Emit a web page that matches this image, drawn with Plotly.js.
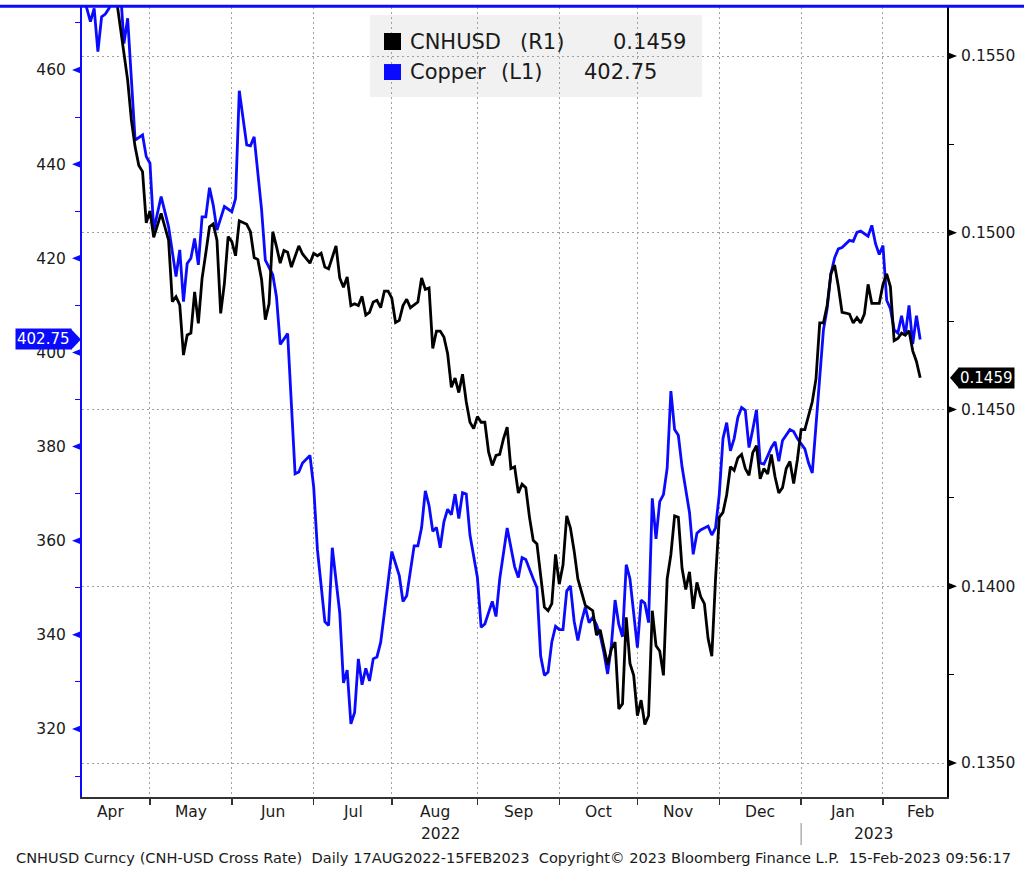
<!DOCTYPE html>
<html>
<head>
<meta charset="utf-8">
<script src="https://cdn.plot.ly/plotly-3.0.1.min.js"></script>
<style>
html,body{margin:0;padding:0;background:#fff;}
#chart{width:1024px;height:869px;}
</style>
</head>
<body>
<div id="chart"></div>
<script>
// ---------------- DATA ----------------
const copperDates = [
'2022-04-06','2022-04-08','2022-04-11','2022-04-12','2022-04-13','2022-04-14','2022-04-15','2022-04-19','2022-04-20','2022-04-21','2022-04-22','2022-04-26','2022-04-28','2022-04-29',
'2022-05-02','2022-05-03','2022-05-05','2022-05-09','2022-05-11','2022-05-12','2022-05-13','2022-05-16','2022-05-17','2022-05-18','2022-05-19','2022-05-20','2022-05-23','2022-05-24','2022-05-25','2022-05-26','2022-05-30',
'2022-06-01','2022-06-02','2022-06-03','2022-06-07','2022-06-08','2022-06-09','2022-06-13','2022-06-14','2022-06-16','2022-06-17','2022-06-20','2022-06-22','2022-06-24','2022-06-27','2022-06-28','2022-06-30',
'2022-07-01','2022-07-04','2022-07-06','2022-07-07','2022-07-08','2022-07-12','2022-07-13','2022-07-14','2022-07-15','2022-07-18','2022-07-19','2022-07-20','2022-07-21','2022-07-22','2022-07-25','2022-07-26','2022-07-27','2022-07-28',
'2022-08-01','2022-08-03','2022-08-04','2022-08-05','2022-08-09','2022-08-10','2022-08-11','2022-08-12','2022-08-15','2022-08-16','2022-08-17','2022-08-18','2022-08-19','2022-08-22','2022-08-23','2022-08-24','2022-08-25','2022-08-26','2022-08-29','2022-08-30',
'2022-09-01','2022-09-02','2022-09-05','2022-09-07','2022-09-08','2022-09-09','2022-09-13','2022-09-15','2022-09-16','2022-09-19','2022-09-20','2022-09-22','2022-09-23','2022-09-26','2022-09-27','2022-09-28','2022-09-29','2022-09-30',
'2022-10-03','2022-10-04','2022-10-05','2022-10-06','2022-10-07','2022-10-10','2022-10-11','2022-10-12','2022-10-13','2022-10-14','2022-10-17','2022-10-18','2022-10-19','2022-10-20','2022-10-21','2022-10-24','2022-10-25','2022-10-26','2022-10-27','2022-10-28','2022-10-31',
'2022-11-01','2022-11-02','2022-11-03','2022-11-04','2022-11-07','2022-11-08','2022-11-09','2022-11-10','2022-11-11','2022-11-14','2022-11-15','2022-11-16','2022-11-17','2022-11-21','2022-11-22','2022-11-23','2022-11-24','2022-11-28','2022-11-29','2022-11-30',
'2022-12-01','2022-12-02','2022-12-05','2022-12-06','2022-12-07','2022-12-08','2022-12-09','2022-12-12','2022-12-13','2022-12-14','2022-12-15','2022-12-16','2022-12-19','2022-12-20','2022-12-21','2022-12-22','2022-12-23','2022-12-26','2022-12-28','2022-12-29','2022-12-30',
'2023-01-03','2023-01-04','2023-01-05','2023-01-06','2023-01-09','2023-01-10','2023-01-11','2023-01-12','2023-01-13','2023-01-16','2023-01-17','2023-01-19','2023-01-20','2023-01-23','2023-01-24','2023-01-25','2023-01-26','2023-01-27','2023-01-30','2023-01-31',
'2023-02-01','2023-02-02','2023-02-03','2023-02-06','2023-02-07','2023-02-08','2023-02-09','2023-02-10','2023-02-13','2023-02-14','2023-02-15'
];
const copperValues = [
476,470.3,473.1,463.9,471.3,471.9,473.1,477,478,465.6,471,445.1,446.2,441.6,
440.2,426,433.1,426.7,416.1,421.8,410.8,418.9,420,424.2,418.6,428.8,428.8,435,431.3,426,431,
429.9,432.7,455.6,444.1,443.9,445.8,430.3,419.6,416.5,411.8,401.7,404,374.2,374.6,376.5,378.1,
371.4,358.1,342.8,342,358.5,344.7,329.8,332.5,321.1,323.5,334.9,329.4,332.9,330.2,334.9,335.3,338.4,344.7,
357.7,352.6,347.1,348.3,358.9,358.9,362.8,370.6,367.5,362,362.8,358.5,364,366.7,365.5,369.9,364.7,370.2,369.9,361.2,
352.2,341.6,342.3,347.1,343.9,351.9,362.7,354.5,352.2,356.4,356,351.9,350,335.5,331.4,332.1,338.5,341.8,
341.1,341.1,349.3,350.4,342.9,338.8,342.9,345.9,342.6,343.7,342.2,339.9,336.2,331.7,337.7,347.4,342.2,339.6,354.9,351.9,345.2,
337.3,347.4,346.7,342.6,369,360.4,368.3,369.8,375.4,391.8,383.6,382.4,375.7,366,357.1,361.6,362.3,363.1,361.2,362.7,
369.8,381.7,385.1,379.1,381.7,386.2,388.3,387.7,379.8,383.6,387.8,376.5,376.3,378,379.8,381,376.9,381.3,383.6,383.2,381.7,
379.5,376.5,374.4,383.9,395.1,404.8,409.3,416.7,420.1,422,422.3,423.8,423.6,425.5,425.8,425.2,424.7,427,423.1,420.8,
422.7,411.1,409.3,404.8,404.1,407.8,403.7,410,401.8,407.8,402.75
];
const cnhDates = [
'2022-04-06','2022-04-14','2022-04-19','2022-04-21','2022-04-22','2022-04-25','2022-04-26','2022-04-27','2022-04-28','2022-04-29',
'2022-05-02','2022-05-03','2022-05-05','2022-05-09','2022-05-10','2022-05-11','2022-05-12','2022-05-13','2022-05-16','2022-05-17','2022-05-18','2022-05-19','2022-05-20','2022-05-23','2022-05-24','2022-05-25','2022-05-26','2022-05-27','2022-05-30','2022-05-31',
'2022-06-01','2022-06-02','2022-06-03','2022-06-07','2022-06-08','2022-06-09','2022-06-10','2022-06-13','2022-06-14','2022-06-15','2022-06-16','2022-06-17','2022-06-20','2022-06-21','2022-06-22','2022-06-23','2022-06-27','2022-06-28','2022-06-30',
'2022-07-01','2022-07-04','2022-07-05','2022-07-06','2022-07-07','2022-07-11','2022-07-12','2022-07-13','2022-07-14','2022-07-15','2022-07-18','2022-07-19','2022-07-20','2022-07-21','2022-07-22','2022-07-25','2022-07-26','2022-07-27','2022-07-28','2022-07-29',
'2022-08-01','2022-08-02','2022-08-03','2022-08-04','2022-08-05','2022-08-08','2022-08-10','2022-08-11','2022-08-12','2022-08-15','2022-08-16','2022-08-17','2022-08-18','2022-08-19','2022-08-22','2022-08-23','2022-08-24','2022-08-25','2022-08-26','2022-08-29','2022-08-30','2022-08-31',
'2022-09-01','2022-09-02','2022-09-05','2022-09-06','2022-09-07','2022-09-08','2022-09-09','2022-09-12','2022-09-13','2022-09-14','2022-09-15','2022-09-16','2022-09-19','2022-09-20','2022-09-21','2022-09-22','2022-09-23','2022-09-26','2022-09-27','2022-09-28','2022-09-29','2022-09-30',
'2022-10-03','2022-10-04','2022-10-05','2022-10-06','2022-10-07','2022-10-10','2022-10-11','2022-10-12','2022-10-14','2022-10-17','2022-10-18','2022-10-19','2022-10-20','2022-10-21','2022-10-24','2022-10-25','2022-10-26','2022-10-27','2022-10-28','2022-10-31',
'2022-11-01','2022-11-02','2022-11-03','2022-11-04','2022-11-07','2022-11-08','2022-11-09','2022-11-10','2022-11-11','2022-11-14','2022-11-15','2022-11-16','2022-11-17','2022-11-18','2022-11-21','2022-11-22','2022-11-23','2022-11-24','2022-11-25','2022-11-28','2022-11-29','2022-11-30',
'2022-12-01','2022-12-02','2022-12-05','2022-12-06','2022-12-07','2022-12-08','2022-12-09','2022-12-12','2022-12-13','2022-12-14','2022-12-15','2022-12-16','2022-12-19','2022-12-20','2022-12-21','2022-12-22','2022-12-23','2022-12-26','2022-12-27','2022-12-28','2022-12-29','2022-12-30',
'2023-01-02','2023-01-03','2023-01-04','2023-01-05','2023-01-06','2023-01-09','2023-01-10','2023-01-11','2023-01-12','2023-01-13','2023-01-16','2023-01-17','2023-01-18','2023-01-19','2023-01-20','2023-01-23','2023-01-24','2023-01-25','2023-01-26','2023-01-27','2023-01-30','2023-01-31',
'2023-02-01','2023-02-02','2023-02-03','2023-02-06','2023-02-07','2023-02-08','2023-02-09','2023-02-10','2023-02-13','2023-02-14','2023-02-15'
];
const cnhValues = [
0.1572,0.1570,0.1566,0.15517,0.15432,0.15319,0.15243,0.15190,0.15173,0.15028,
0.15062,0.14987,0.15055,0.14979,0.14805,0.14819,0.14796,0.14654,0.14711,0.14716,0.14833,0.14744,0.14871,0.14942,0.15017,0.15025,0.14979,0.14772,0.14857,0.14989,
0.14975,0.14935,0.15034,0.15024,0.15003,0.1493,0.14924,0.14867,0.14754,0.14799,0.15003,0.14961,0.14914,0.1495,0.14945,0.14903,0.14963,0.1494,0.14914,
0.14942,0.14935,0.14942,0.14903,0.14898,0.14963,0.14872,0.14846,0.14875,0.14794,0.14799,0.14794,0.1482,0.14767,0.14775,0.14804,0.14809,0.14788,0.14835,0.14835,
0.14815,0.14746,0.14752,0.14794,0.14812,0.14788,0.14804,0.14872,0.1484,0.14844,0.14673,0.14722,0.14722,0.14705,0.14658,0.14563,0.14589,0.14548,0.146,0.14522,0.14464,0.14446,
0.1448,0.14464,0.14464,0.1438,0.14342,0.1437,0.14373,0.14417,0.1445,0.14333,0.14338,0.14264,0.14289,0.14279,0.14195,0.1413,0.1412,0.14026,0.13941,0.13931,0.13951,0.1409,
0.14006,0.1406,0.14199,0.14165,0.141,0.14021,0.13981,0.13946,0.13931,0.13862,0.13877,0.13822,0.13778,0.13822,0.13842,0.13653,0.13668,0.13912,0.13782,0.13748,
0.13634,0.13678,0.13609,0.13634,0.13931,0.13832,0.13817,0.13748,0.14021,0.1409,0.14199,0.14195,0.14051,0.13991,0.14041,0.13936,0.14011,0.13971,0.13951,0.13852,0.13802,0.14021,
0.14195,0.14209,0.14259,0.14338,0.14328,0.14363,0.14373,0.14333,0.14314,0.14378,0.14398,0.14304,0.14333,0.14318,0.14373,0.14309,0.14264,0.14279,0.14333,0.14353,0.14291,0.14358,
0.14443,0.14443,0.14487,0.14522,0.14587,0.14745,0.14745,0.14795,0.14884,0.14909,0.14849,0.14775,0.14773,0.1477,0.14745,0.1476,0.14745,0.1477,0.14854,0.148,0.148,0.148,
0.14854,0.14884,0.14847,0.14695,0.14701,0.14716,0.1471,0.14723,0.14666,0.14636,0.1459
];
const leftTicks = [320,340,360,380,400,420,440,460];
const leftMinorTicks = [310,330,350,370,390,410,430,450,470];
const rightTicks = [0.1350,0.1400,0.1450,0.1500,0.1550];
const rightMinorTicks = [0.1375,0.1425,0.1475,0.1525];
const monthLabels = ['Apr','May','Jun','Jul','Aug','Sep','Oct','Nov','Dec','Jan','Feb'];
const monthMidDates = ['2022-04-15 12:00','2022-05-17','2022-06-16','2022-07-15 12:00','2022-08-16 12:00','2022-09-16',
                       '2022-10-17 12:00','2022-11-16','2022-12-16','2023-01-17','2023-02-15'];
const yearLabels = ['2022','2023'];
const seriesNames = ['CNHUSD','Copper'];
const seriesTags = ['(R1)','(L1)'];
const footerText = 'CNHUSD Curncy (CNH-USD Cross Rate)  Daily 17AUG2022-15FEB2023  Copyright\u00A9 2023 Bloomberg Finance L.P.  15-Feb-2023 09:56:17';

// ---------------- STYLE ----------------
const FONT = 'DejaVu Sans, Verdana, sans-serif';
const TXT = '#1a1a1a';
const BLUE = '#0a0aff';
const GRID = '#a0a0a0';

const lastCopper = copperValues[copperValues.length - 1];
const lastCnh = cnhValues[cnhValues.length - 1];

const traces = [
  {type:'scatter', mode:'lines', x:copperDates, y:copperValues, yaxis:'y',
   line:{color:BLUE, width:2.8}, hoverinfo:'skip', showlegend:false},
  {type:'scatter', mode:'lines', x:cnhDates, y:cnhValues, yaxis:'y2',
   line:{color:'#000000', width:2.8}, hoverinfo:'skip', showlegend:false}
];

const shapes = [];
// legend background
shapes.push({type:'rect', xref:'paper', yref:'paper', x0:0.333, x1:0.7168, y0:0.886, y1:0.9899,
  fillcolor:'#f1f1f1', line:{width:0}, layer:'below'});
// legend swatches
shapes.push({type:'rect', xref:'paper', yref:'paper', x0:0.3491, x1:0.3688, y0:0.9456, y1:0.9671,
  fillcolor:'#000000', line:{width:0}});
shapes.push({type:'rect', xref:'paper', yref:'paper', x0:0.3491, x1:0.3688, y0:0.9076, y1:0.9278,
  fillcolor:BLUE, line:{width:0}});
// top blue rule
shapes.push({type:'line', xref:'paper', yref:'paper', x0:-0.12, x1:1.12, y0:1.001, y1:1.001,
  line:{color:BLUE, width:3}});
// left tick pointers
leftTicks.forEach(v => shapes.push({type:'path', xref:'paper', yref:'y', xsizemode:'pixel', ysizemode:'pixel',
  xanchor:0, yanchor:v, path:'M 0 4 L -10 0 L 0 -4 Z', fillcolor:BLUE, line:{width:0}}));
// right tick pointers
rightTicks.forEach(v => shapes.push({type:'path', xref:'paper', yref:'y2', xsizemode:'pixel', ysizemode:'pixel',
  xanchor:1, yanchor:v, path:'M 0 4 L 10 0 L 0 -4 Z', fillcolor:'#000000', line:{width:0}}));
// last value tag pointers
shapes.push({type:'path', xref:'paper', yref:'y', xsizemode:'pixel', ysizemode:'pixel',
  xanchor:0, yanchor:lastCopper, path:'M -11 -10.5 L -1 0 L -11 10.5 Z', fillcolor:BLUE, line:{width:0}});
shapes.push({type:'path', xref:'paper', yref:'y2', xsizemode:'pixel', ysizemode:'pixel',
  xanchor:1, yanchor:lastCnh, path:'M 12 -10.5 L 3 0 L 12 10.5 Z', fillcolor:'#000000', line:{width:0}});
// year separator
shapes.push({type:'line', xref:'x', yref:'paper', x0:'2023-01-02', x1:'2023-01-02', y0:-0.033, y1:-0.061,
  line:{color:'#888888', width:1}});

const annotations = [];
// month labels (centred on each month's span)
monthLabels.forEach((m, i) => annotations.push({xref:'x', yref:'paper', x:monthMidDates[i], y:-0.019,
  xanchor:'center', yanchor:'middle', showarrow:false, text:m, font:{family:FONT, size:15.5, color:TXT}}));
// legend texts
annotations.push({xref:'paper', yref:'paper', x:0.3769, y:0.9557, xanchor:'left', yanchor:'middle', showarrow:false,
  text:seriesNames[0], font:{family:FONT, size:21, color:TXT}});
annotations.push({xref:'paper', yref:'paper', x:0.5040, y:0.9557, xanchor:'left', yanchor:'middle', showarrow:false,
  text:seriesTags[0], font:{family:FONT, size:21, color:TXT}});
annotations.push({xref:'paper', yref:'paper', x:0.7006, y:0.9557, xanchor:'right', yanchor:'middle', showarrow:false,
  text:lastCnh.toFixed(4), font:{family:FONT, size:21, color:TXT}});
annotations.push({xref:'paper', yref:'paper', x:0.3769, y:0.9177, xanchor:'left', yanchor:'middle', showarrow:false,
  text:seriesNames[1], font:{family:FONT, size:21, color:TXT}});
annotations.push({xref:'paper', yref:'paper', x:0.4821, y:0.9177, xanchor:'left', yanchor:'middle', showarrow:false,
  text:seriesTags[1], font:{family:FONT, size:21, color:TXT}});
annotations.push({xref:'paper', yref:'paper', x:0.6671, y:0.9177, xanchor:'right', yanchor:'middle', showarrow:false,
  text:lastCopper.toFixed(2), font:{family:FONT, size:21, color:TXT}});
// last value tags
annotations.push({xref:'paper', x:0, xanchor:'right', xshift:-10, yref:'y', y:lastCopper, yanchor:'middle',
  text:lastCopper.toFixed(2), showarrow:false, bgcolor:BLUE, borderpad:1,
  font:{family:FONT, size:15, color:'#ffffff'}});
annotations.push({xref:'paper', x:1, xanchor:'left', xshift:11, yref:'y2', y:lastCnh, yanchor:'middle',
  text:lastCnh.toFixed(4), showarrow:false, bgcolor:'#000000', borderpad:1,
  font:{family:FONT, size:15, color:'#ffffff'}});
// years
annotations.push({xref:'paper', yref:'paper', x:0.415, y:-0.0468, xanchor:'center', yanchor:'middle', showarrow:false,
  text:yearLabels[0], font:{family:FONT, size:15.5, color:TXT}});
annotations.push({xref:'paper', yref:'paper', x:0.9156, y:-0.0468, xanchor:'center', yanchor:'middle', showarrow:false,
  text:yearLabels[1], font:{family:FONT, size:15.5, color:TXT}});
// footer
annotations.push({xref:'paper', yref:'paper', x:-0.0786, y:-0.0772, xanchor:'left', yanchor:'middle', showarrow:false,
  text:footerText.replace(/ /g, '\u00A0'), font:{family:FONT, size:14.6, color:TXT}});

const layout = {
  width:1024, height:869,
  margin:{l:82, r:77, t:7, b:72, pad:0},
  paper_bgcolor:'#ffffff', plot_bgcolor:'#ffffff',
  font:{family:FONT, color:TXT},
  showlegend:false,
  xaxis:{
    type:'date',
    range:['2022-04-05 17:30', '2023-02-24 05:00'],
    rangebreaks:[{bounds:['sat','mon']}],
    tickmode:'linear', tick0:'2022-01-01', dtick:'M1',
    showticklabels:false,
    ticks:'outside', ticklen:6, tickwidth:1.5, tickcolor:'#333333',
    showline:true, linecolor:'#333333', linewidth:2,
    showgrid:true, gridcolor:GRID, gridwidth:1, griddash:'2px,3px',
    zeroline:false,
    fixedrange:true
  },
  yaxis:{
    range:[305.55, 473.39],
    tickmode:'array', tickvals:leftTicks,
    ticks:'outside', ticklen:5, tickcolor:BLUE, tickwidth:1,
    minor:{tickmode:'array', tickvals:leftMinorTicks, ticks:'outside', ticklen:5, tickcolor:BLUE, tickwidth:1, showgrid:false},
    showline:true, linecolor:BLUE, linewidth:2,
    showgrid:false, zeroline:false,
    tickfont:{family:FONT, size:15.5, color:TXT},
    ticklabelstandoff:6,
    fixedrange:true
  },
  yaxis2:{
    overlaying:'y', side:'right', anchor:'x',
    range:[0.13404, 0.156386],
    tickmode:'array', tickvals:rightTicks, tickformat:'.4f',
    ticks:'outside', ticklen:5, tickcolor:'#000000', tickwidth:1,
    minor:{tickmode:'array', tickvals:rightMinorTicks, ticks:'outside', ticklen:5, tickcolor:'#000000', tickwidth:1, showgrid:false},
    showline:true, linecolor:'#000000', linewidth:2,
    showgrid:true, gridcolor:GRID, gridwidth:1, griddash:'2px,3px',
    zeroline:false,
    tickfont:{family:FONT, size:15.5, color:TXT},
    ticklabelstandoff:4,
    fixedrange:true
  },
  shapes:shapes,
  annotations:annotations
};

Plotly.newPlot('chart', traces, layout, {staticPlot:true, displayModeBar:false});
</script>
</body>
</html>
